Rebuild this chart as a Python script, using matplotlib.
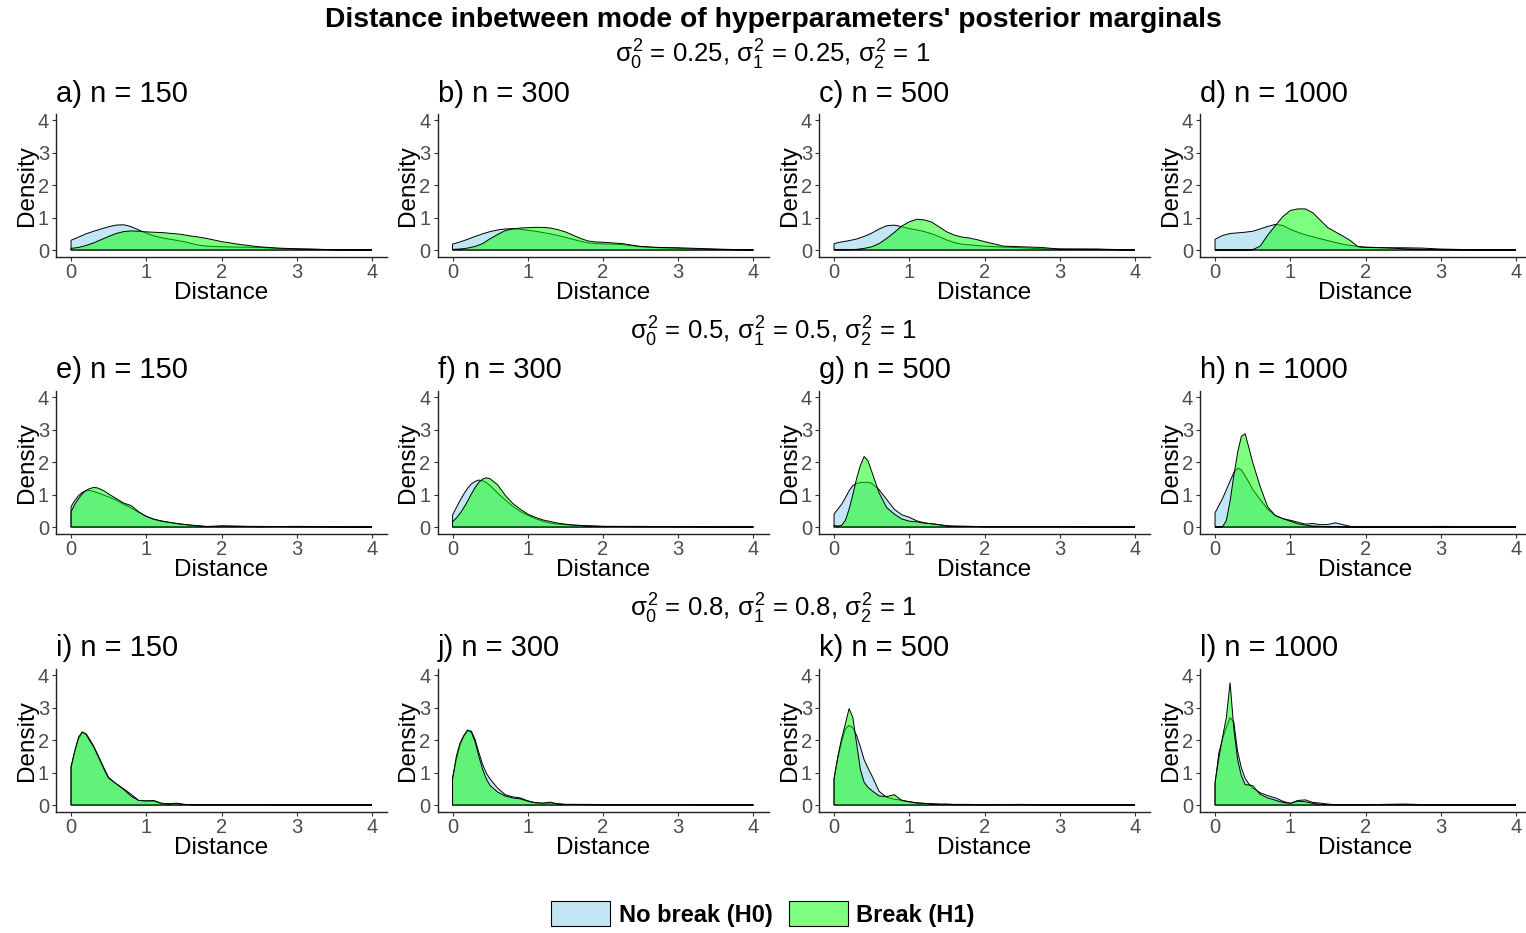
import matplotlib.pyplot as plt
from matplotlib.patches import Patch

plt.rcParams['font.family'] = ['Liberation Sans', 'DejaVu Sans']
plt.rcParams['mathtext.fontset'] = 'custom'
plt.rcParams['mathtext.rm'] = 'Liberation Sans'
plt.rcParams['mathtext.it'] = 'Liberation Sans'

# x grids the densities were read on
x_row1 = [0, 0.1, 0.2, 0.3, 0.4, 0.5, 0.6, 0.7, 0.8, 0.9, 1.0, 1.1, 1.2, 1.3,
          1.4, 1.5, 1.6, 1.7, 1.8, 1.9, 2.0, 2.25, 2.5, 2.75, 3.0, 3.5, 4.0]
x_fine = [0, 0.05, 0.1, 0.15, 0.2, 0.25, 0.3, 0.35, 0.4, 0.45, 0.5, 0.6, 0.7,
          0.8, 0.9, 1.0, 1.1, 1.2, 1.3, 1.4, 1.5, 1.6, 1.8, 2.0, 2.5, 3.0, 4.0]

# row 1: sigma0^2 = sigma1^2 = 0.25
a_h0 = [0.30, 0.40, 0.50, 0.58, 0.65, 0.72, 0.77, 0.78, 0.72, 0.62, 0.52, 0.44, 0.38, 0.34,
        0.30, 0.26, 0.20, 0.15, 0.12, 0.11, 0.10, 0.09, 0.08, 0.05, 0.03, 0.01, 0.0]
a_h1 = [0.05, 0.08, 0.14, 0.22, 0.32, 0.42, 0.51, 0.57, 0.59, 0.58, 0.56, 0.55, 0.54, 0.52,
        0.50, 0.47, 0.43, 0.40, 0.36, 0.31, 0.26, 0.17, 0.10, 0.06, 0.04, 0.01, 0.0]
b_h0 = [0.18, 0.25, 0.33, 0.42, 0.50, 0.57, 0.62, 0.65, 0.66, 0.64, 0.61, 0.58, 0.54, 0.50,
        0.45, 0.39, 0.33, 0.27, 0.22, 0.20, 0.19, 0.17, 0.10, 0.07, 0.05, 0.02, 0.0]
b_h1 = [0.02, 0.03, 0.06, 0.11, 0.20, 0.35, 0.48, 0.60, 0.65, 0.68, 0.69, 0.70, 0.70, 0.68,
        0.63, 0.56, 0.46, 0.36, 0.28, 0.25, 0.24, 0.20, 0.11, 0.08, 0.07, 0.03, 0.0]
c_h0 = [0.20, 0.25, 0.29, 0.34, 0.42, 0.52, 0.65, 0.75, 0.77, 0.72, 0.66, 0.62, 0.57, 0.50,
        0.41, 0.31, 0.23, 0.18, 0.16, 0.14, 0.12, 0.09, 0.07, 0.04, 0.03, 0.02, 0.0]
c_h1 = [0.01, 0.01, 0.01, 0.02, 0.05, 0.10, 0.20, 0.36, 0.54, 0.74, 0.87, 0.95, 0.93, 0.86,
        0.71, 0.56, 0.46, 0.40, 0.37, 0.32, 0.26, 0.12, 0.10, 0.08, 0.03, 0.03, 0.0]
d_h0 = [0.33, 0.45, 0.51, 0.53, 0.55, 0.58, 0.65, 0.73, 0.79, 0.76, 0.64, 0.55, 0.47, 0.41,
        0.35, 0.29, 0.23, 0.18, 0.14, 0.11, 0.09, 0.07, 0.07, 0.06, 0.03, 0.005, 0.0]
d_h1 = [0.0, 0.0, 0.0, 0.0, 0.0, 0.01, 0.12, 0.46, 0.75, 1.03, 1.22, 1.27, 1.27, 1.15,
        0.92, 0.69, 0.56, 0.43, 0.29, 0.10, 0.08, 0.07, 0.04, 0.02, 0.01, 0.0, 0.0]

# row 2: sigma0^2 = sigma1^2 = 0.5
e_h0 = [0.63, 0.82, 0.97, 1.07, 1.12, 1.13, 1.10, 1.06, 1.02, 0.97, 0.93, 0.83, 0.70,
        0.59, 0.45, 0.33, 0.24, 0.18, 0.14, 0.11, 0.08, 0.05, 0.02, 0.02, 0.02, 0.01, 0.0]
e_h1 = [0.47, 0.70, 0.88, 1.03, 1.13, 1.19, 1.22, 1.21, 1.16, 1.10, 1.02, 0.88, 0.74,
        0.66, 0.47, 0.33, 0.24, 0.19, 0.15, 0.11, 0.08, 0.06, 0.01, 0.04, 0.01, 0.02, 0.0]
f_h0 = [0.37, 0.60, 0.82, 1.02, 1.20, 1.33, 1.41, 1.45, 1.43, 1.37, 1.28, 1.05, 0.84,
        0.64, 0.48, 0.36, 0.26, 0.18, 0.12, 0.09, 0.07, 0.06, 0.04, 0.02, 0.01, 0.01, 0.0]
f_h1 = [0.16, 0.28, 0.42, 0.60, 0.80, 1.02, 1.22, 1.38, 1.48, 1.52, 1.49, 1.30, 0.98,
        0.73, 0.55, 0.40, 0.30, 0.22, 0.17, 0.12, 0.09, 0.06, 0.03, 0.02, 0.02, 0.01, 0.0]
g_h0 = [0.40, 0.55, 0.70, 0.90, 1.12, 1.28, 1.35, 1.37, 1.38, 1.38, 1.35, 1.15, 0.85,
        0.55, 0.38, 0.30, 0.19, 0.13, 0.10, 0.07, 0.04, 0.03, 0.02, 0.01, 0.01, 0.01, 0.0]
g_h1 = [0.05, 0.03, 0.05, 0.20, 0.55, 1.00, 1.50, 1.90, 2.18, 2.05, 1.72, 1.05, 0.60,
        0.40, 0.25, 0.18, 0.16, 0.12, 0.10, 0.07, 0.03, 0.02, 0.02, 0.01, 0.01, 0.01, 0.0]
h_h0 = [0.44, 0.66, 0.88, 1.15, 1.42, 1.68, 1.82, 1.76, 1.58, 1.38, 1.16, 0.85, 0.55,
        0.35, 0.26, 0.21, 0.15, 0.09, 0.11, 0.07, 0.08, 0.13, 0.02, 0.01, 0.01, 0.02, 0.0]
h_h1 = [0.0, 0.0, 0.01, 0.20, 0.80, 1.60, 2.30, 2.80, 2.88, 2.45, 2.00, 1.25, 0.62,
        0.36, 0.26, 0.18, 0.10, 0.06, 0.03, 0.02, 0.01, 0.01, 0.0, 0.0, 0.0, 0.0, 0.0]

# row 3: sigma0^2 = sigma1^2 = 0.8
i_h0 = [1.20, 1.65, 2.05, 2.24, 2.20, 2.02, 1.82, 1.58, 1.33, 1.08, 0.85, 0.65, 0.50,
        0.33, 0.14, 0.12, 0.12, 0.04, 0.04, 0.04, 0.02, 0.01, 0.01, 0.01, 0.01, 0.0, 0.0]
i_h1 = [1.15, 1.68, 2.10, 2.26, 2.18, 1.98, 1.80, 1.55, 1.30, 1.05, 0.83, 0.66, 0.48,
        0.27, 0.14, 0.13, 0.14, 0.06, 0.03, 0.06, 0.02, 0.01, 0.01, 0.01, 0.01, 0.0, 0.0]
j_h0 = [0.84, 1.40, 1.85, 2.12, 2.30, 2.28, 2.02, 1.62, 1.25, 0.98, 0.80, 0.52, 0.32,
        0.25, 0.22, 0.13, 0.07, 0.05, 0.06, 0.04, 0.02, 0.02, 0.02, 0.01, 0.01, 0.01, 0.0]
j_h1 = [0.80, 1.50, 1.92, 2.15, 2.32, 2.25, 1.95, 1.50, 1.10, 0.80, 0.60, 0.40, 0.28,
        0.22, 0.19, 0.12, 0.07, 0.06, 0.09, 0.03, 0.02, 0.02, 0.01, 0.01, 0.01, 0.01, 0.0]
k_h0 = [0.80, 1.45, 1.95, 2.35, 2.46, 2.38, 2.15, 1.80, 1.40, 1.15, 0.92, 0.42, 0.24,
        0.18, 0.15, 0.10, 0.07, 0.05, 0.04, 0.03, 0.03, 0.02, 0.02, 0.01, 0.02, 0.0, 0.0]
k_h1 = [0.82, 1.50, 2.05, 2.50, 2.98, 2.70, 1.90, 1.10, 0.70, 0.55, 0.45, 0.28, 0.26,
        0.32, 0.14, 0.10, 0.06, 0.05, 0.03, 0.02, 0.02, 0.01, 0.01, 0.01, 0.01, 0.0, 0.0]
l_h0 = [0.65, 1.60, 2.05, 2.40, 2.70, 2.55, 1.65, 1.15, 0.82, 0.65, 0.52, 0.38, 0.29,
        0.22, 0.12, 0.05, 0.14, 0.16, 0.08, 0.06, 0.03, 0.01, 0.01, 0.01, 0.03, 0.0, 0.0]
l_h1 = [0.70, 1.45, 2.10, 2.70, 3.78, 2.35, 1.40, 0.90, 0.63, 0.62, 0.60, 0.33, 0.22,
        0.15, 0.08, 0.05, 0.12, 0.10, 0.05, 0.02, 0.01, 0.01, 0.01, 0.01, 0.01, 0.0, 0.0]

panel_titles = ['a) n = 150', 'b) n = 300', 'c) n = 500', 'd) n = 1000',
                'e) n = 150', 'f) n = 300', 'g) n = 500', 'h) n = 1000',
                'i) n = 150', 'j) n = 300', 'k) n = 500', 'l) n = 1000']
row_titles = [r'$\sigma_0^2$ = 0.25, $\sigma_1^2$ = 0.25, $\sigma_2^2$ = 1',
              r'$\sigma_0^2$ = 0.5, $\sigma_1^2$ = 0.5, $\sigma_2^2$ = 1',
              r'$\sigma_0^2$ = 0.8, $\sigma_1^2$ = 0.8, $\sigma_2^2$ = 1']
h0_curves = [a_h0, b_h0, c_h0, d_h0, e_h0, f_h0, g_h0, h_h0, i_h0, j_h0, k_h0, l_h0]
h1_curves = [a_h1, b_h1, c_h1, d_h1, e_h1, f_h1, g_h1, h_h1, i_h1, j_h1, k_h1, l_h1]

col_h0 = (135/255, 206/255, 235/255, 0.5)   # skyblue, alpha .5
col_h1 = (0, 1, 0, 0.5)                      # green, alpha .5

W, H = 1526, 933
fig = plt.figure(figsize=(W / 100, H / 100), dpi=100)

col_left = [56, 437.5, 819, 1200]
row_top = [114, 391, 669]
ax_w, ax_h = 331, 142.5

for k in range(12):
    r, c = divmod(k, 4)
    x = x_row1 if r == 0 else x_fine
    ax = fig.add_axes([col_left[c] / W, 1 - (row_top[r] + ax_h) / H, ax_w / W, ax_h / H])
    ax.fill(x + [x[-1], x[0]], h0_curves[k] + [0, 0], facecolor=col_h0,
            edgecolor='black', linewidth=0.7)
    ax.fill(x + [x[-1], x[0]], h1_curves[k] + [0, 0], facecolor=col_h1,
            edgecolor='black', linewidth=0.7)
    ax.set_xlim(-0.2, 4.2)
    ax.set_ylim(-0.2, 4.2)
    ax.set_xticks([0, 1, 2, 3, 4])
    ax.set_yticks([0, 1, 2, 3, 4])
    for s in ['top', 'right']:
        ax.spines[s].set_visible(False)
    for s in ['left', 'bottom']:
        ax.spines[s].set_color('#222222')
        ax.spines[s].set_linewidth(1.0)
    ax.tick_params(labelsize=14.5, labelcolor='#4D4D4D', color='#333333',
                   length=3, width=0.8, pad=2)
    ax.set_xlabel('Distance', fontsize=17.5, labelpad=0)
    ax.set_ylabel('Density', fontsize=17.5, labelpad=0)
    ax.set_title(panel_titles[k], loc='left', fontsize=21, pad=9)

fig.text(773 / W, 1 - 20 / H, "Distance inbetween mode of hyperparameters' posterior marginals",
         ha='center', va='center', fontsize=20.3, fontweight='bold')
for r, yy in enumerate([55, 332, 609]):
    fig.text(773 / W, 1 - yy / H, row_titles[r], ha='center', va='center', fontsize=18.5)

handles = [Patch(facecolor=col_h0, edgecolor='black', linewidth=0.8),
           Patch(facecolor=col_h1, edgecolor='black', linewidth=0.8)]
fig.legend(handles, ['No break (H0)', 'Break (H1)'], loc='center',
           bbox_to_anchor=(763 / W, 1 - 914 / H), ncol=2, frameon=False,
           prop={'weight': 'bold', 'size': 17},
           handlelength=2.5, handleheight=1.2, handletextpad=0.35, columnspacing=0.7)

fig.savefig('out.png', dpi=100)
